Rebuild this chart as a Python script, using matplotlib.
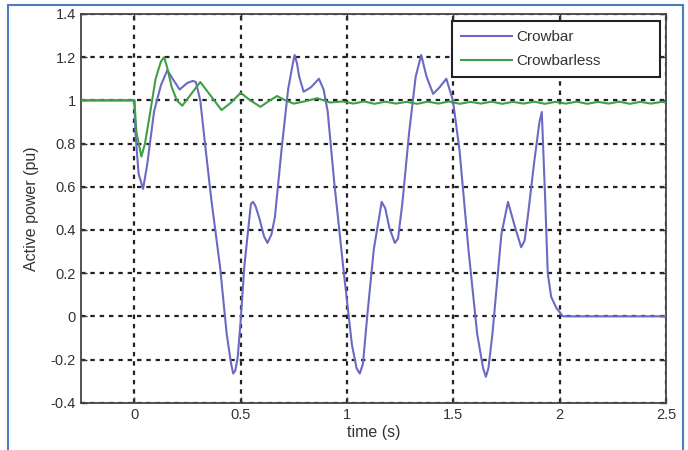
import matplotlib
matplotlib.use("Agg")
import matplotlib.pyplot as plt
from matplotlib.patches import Rectangle

plt.rcParams['font.family'] = ['Liberation Sans', 'DejaVu Sans']

# Crowbar series
t_crowbar = [-0.25, 0.0, 0.005, 0.02, 0.041, 0.06, 0.093, 0.125, 0.155, 0.18,
             0.213, 0.248, 0.275, 0.289, 0.31, 0.33, 0.362, 0.403, 0.434, 0.455,
             0.465, 0.475, 0.486, 0.5, 0.517, 0.548, 0.558, 0.57, 0.589, 0.61,
             0.626, 0.645, 0.661, 0.692, 0.723, 0.745, 0.754, 0.765, 0.775, 0.796,
             0.83, 0.868, 0.89, 0.909, 0.94, 0.982, 1.023, 1.045, 1.06, 1.075,
             1.095, 1.126, 1.163, 1.18, 1.199, 1.225, 1.24, 1.261, 1.292, 1.323,
             1.349, 1.374, 1.405, 1.435, 1.467, 1.498, 1.529, 1.571, 1.612, 1.64,
             1.653, 1.665, 1.684, 1.726, 1.757, 1.788, 1.819, 1.835, 1.85, 1.881,
             1.905, 1.916, 1.932, 1.944, 1.96, 1.984, 2.015, 2.5]
p_crowbar = [1.0, 1.0, 0.85, 0.66, 0.59, 0.7, 0.95, 1.07, 1.14, 1.1,
             1.05, 1.08, 1.09, 1.085, 1.0, 0.82, 0.54, 0.23, -0.08, -0.22,
             -0.265, -0.25, -0.19, -0.02, 0.23, 0.52, 0.53, 0.51, 0.45, 0.37,
             0.34, 0.38, 0.46, 0.77, 1.05, 1.17, 1.21, 1.17, 1.11, 1.04,
             1.06, 1.1, 1.05, 0.95, 0.62, 0.23, -0.13, -0.24, -0.265, -0.22,
             0.0, 0.31, 0.53, 0.5, 0.41, 0.34, 0.36, 0.53, 0.85, 1.11,
             1.21, 1.11, 1.03, 1.06, 1.1, 1.0, 0.77, 0.31, -0.08, -0.24,
             -0.28, -0.24, -0.08, 0.38, 0.53, 0.42, 0.32, 0.35, 0.46, 0.72,
             0.9, 0.946, 0.54, 0.2, 0.09, 0.04, 0.0, 0.0]

# Crowbarless series
t_crowbarless = [-0.25, 0.0, 0.01, 0.033, 0.05, 0.072, 0.1, 0.125, 0.14, 0.155,
                 0.176, 0.2, 0.225, 0.26, 0.31, 0.36, 0.41, 0.455, 0.5, 0.545,
                 0.593, 0.63, 0.671, 0.71, 0.749, 0.8, 0.86, 0.92, 0.98,
                 1.03, 1.08, 1.13, 1.18, 1.23, 1.28, 1.33, 1.38, 1.43, 1.48,
                 1.53, 1.58, 1.63, 1.68, 1.73, 1.78, 1.83, 1.88, 1.93, 1.98,
                 2.03, 2.08, 2.13, 2.18, 2.23, 2.28, 2.33, 2.38, 2.43, 2.48, 2.5]
p_crowbarless = [1.0, 1.0, 0.85, 0.74, 0.8, 0.93, 1.1, 1.18, 1.2, 1.15,
                 1.06, 1.0, 0.975, 1.02, 1.085, 1.02, 0.955, 0.99, 1.035, 1.0,
                 0.97, 0.995, 1.02, 1.0, 0.985, 0.995, 1.01, 0.99, 0.995,
                 0.985, 0.995, 0.984, 0.994, 0.985, 0.993, 0.984, 0.994, 0.985, 0.995,
                 0.984, 0.993, 0.985, 0.994, 0.984, 0.993, 0.985, 0.994, 0.984, 0.993,
                 0.985, 0.994, 0.984, 0.993, 0.985, 0.994, 0.984, 0.993, 0.985, 0.993, 0.99]

x_ticks = [0, 0.5, 1, 1.5, 2, 2.5]
x_tick_labels = ['0', '0.5', '1', '1.5', '2', '2.5']
y_ticks = [-0.4, -0.2, 0, 0.2, 0.4, 0.6, 0.8, 1, 1.2, 1.4]
y_tick_labels = ['-0.4', '-0.2', '0', '0.2', '0.4', '0.6', '0.8', '1', '1.2', '1.4']

fig = plt.figure(figsize=(6.88, 4.5), dpi=100)
ax = fig.add_axes([0.118, 0.105, 0.850, 0.864])

ax.plot(t_crowbar, p_crowbar, color='#6a6ac4', lw=1.5, label='Crowbar', zorder=3)
ax.plot(t_crowbarless, p_crowbarless, color='#3f9f48', lw=1.5, label='Crowbarless', zorder=3)

ax.set_xlim(-0.25, 2.5)
ax.set_ylim(-0.4, 1.4)
ax.set_xticks(x_ticks)
ax.set_xticklabels(x_tick_labels)
ax.set_yticks(y_ticks)
ax.set_yticklabels(y_tick_labels)
ax.tick_params(direction='in', top=True, right=True, length=4, width=1,
               labelsize=10.5, colors='#333333', pad=4)
ax.grid(True, color='#222222', linestyle=(0, (2, 2.2)), lw=1.6, zorder=1)
for s in ax.spines.values():
    s.set_color('#444444')
    s.set_linewidth(1.3)

ax.set_xlabel('time (s)', fontsize=11.5, color='#333333', labelpad=2)
ax.set_ylabel('Active power (pu)', fontsize=11.5, color='#333333', labelpad=8)

leg = ax.legend(loc='upper left', fontsize=11, frameon=True, fancybox=False,
                handlelength=3.3, handletextpad=0.3, borderpad=0.6, labelspacing=0.65,
                bbox_to_anchor=(0.634, 0.982, 0.356, 0.0), mode='expand',
                borderaxespad=0.0)
leg.get_frame().set_edgecolor('#222222')
leg.get_frame().set_linewidth(1.5)
leg.get_frame().set_alpha(1.0)
for txt in leg.get_texts():
    txt.set_color('#333333')

fig.patches.append(Rectangle((8 / 688, -0.02), 675 / 688, 1 - 5 / 450 + 0.02,
                             transform=fig.transFigure, fill=False,
                             edgecolor='#4a7ebb', lw=1.5))

fig.savefig('out.png', dpi=100)
